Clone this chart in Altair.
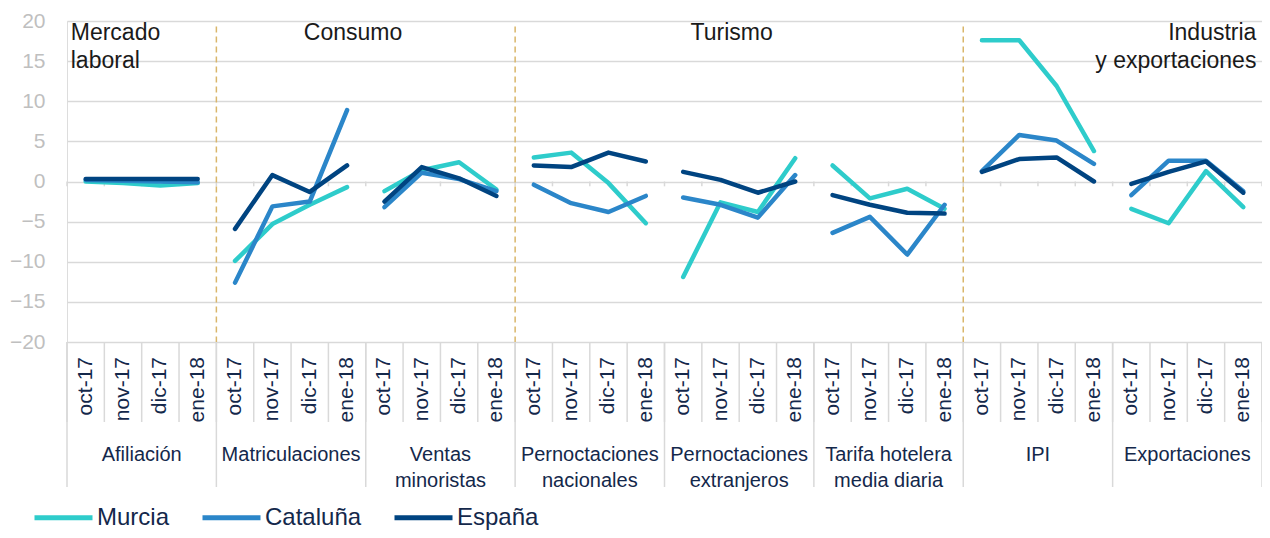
import altair as alt
import pandas as pd

groups = ["Afiliación", "Matriculaciones", "Ventas minoristas", "Pernoctaciones nacionales",
          "Pernoctaciones extranjeros", "Tarifa hotelera media diaria", "IPI", "Exportaciones"]
group_labels = ["Afiliación", "Matriculaciones", "Ventas\nminoristas", "Pernoctaciones\nnacionales",
                "Pernoctaciones\nextranjeros", "Tarifa hotelera\nmedia diaria", "IPI", "Exportaciones"]
months = ["oct-17", "nov-17", "dic-17", "ene-18"]
series = ["Murcia", "Cataluña", "España"]
colors = ["#2ECCCB", "#2B86C9", "#004481"]

murcia = [0.0, -0.2, -0.5, -0.2,
          -9.9, -5.3, -2.9, -0.7,
          -1.2, 1.4, 2.4, -1.0,
          3.0, 3.6, -0.2, -5.2,
          -11.9, -2.6, -3.8, 2.9,
          2.0, -2.1, -0.9, -3.4,
          17.6, 17.6, 11.9, 3.8,
          -3.4, -5.2, 1.3, -3.2]
cataluna = [0.2, 0.1, 0.0, -0.1,
            -12.6, -3.1, -2.5, 8.9,
            -3.2, 1.1, 0.3, -1.2,
            -0.4, -2.7, -3.8, -1.8,
            -2.0, -2.9, -4.5, 0.8,
            -6.4, -4.4, -9.1, -2.9,
            1.3, 5.8, 5.1, 2.2,
            -1.7, 2.6, 2.6, -1.2]
espana = [0.3, 0.3, 0.3, 0.3,
          -5.9, 0.8, -1.3, 2.0,
          -2.5, 1.8, 0.4, -1.8,
          2.0, 1.8, 3.6, 2.5,
          1.2, 0.2, -1.4, 0.0,
          -1.7, -2.9, -3.9, -4.0,
          1.2, 2.8, 3.0, 0.0,
          -0.3, 1.2, 2.5, -1.4]

sections = ["Mercado\nlaboral", "Consumo", "Turismo", "Industria\ny exportaciones"]
section_pos = [0.1, 7.66, 17.8, 31.85]
section_align = ["left", "center", "center", "right"]
section_breaks = [4, 12, 24]

W, H = 1195, 321
TOP = 13
FONT = "Liberation Sans"
NAVY = "#14284B"

rows = []
for s, vals in zip(series, [murcia, cataluna, espana]):
    for i, v in enumerate(vals):
        rows.append(dict(series=s, group=groups[i // 4], month=months[i % 4], pos=i + 0.5, value=v))
df = pd.DataFrame(rows)

xs = alt.Scale(domain=[0, 32], nice=False, zero=False)
ys = alt.Scale(domain=[-20, 20], nice=False, zero=False)
yaxis = alt.Axis(values=list(range(-20, 21, 5)), grid=True, gridColor="#D9D9D9", gridWidth=1.5,
                 domain=False, ticks=False, tickSize=0, labelFontSize=21, labelColor="#BFBFBF",
                 labelPadding=22, title=None, labelFont=FONT, labelFlush=False, labelOverlap=False)

color = alt.Color("series:N", scale=alt.Scale(domain=series, range=colors),
                  legend=alt.Legend(orient="none", legendX=-35, legendY=465, direction="horizontal",
                                    title=None, symbolType="stroke", symbolSize=3364,
                                    symbolStrokeWidth=5, labelFontSize=24, labelFont=FONT,
                                    labelColor=NAVY, labelOffset=2, columnPadding=22))

months_df = pd.DataFrame({"pos": [i + 0.5 for i in range(32)],
                          "month": [months[i % 4] for i in range(32)]})
grid = alt.Chart(months_df).mark_point(opacity=0).encode(
    x=alt.X("pos:Q", scale=xs, axis=None),
    y=alt.Y("zero:Q", scale=ys, axis=yaxis)).transform_calculate(zero="0")

tick_df = pd.DataFrame({"b": list(range(33)), "t0": [0.0] * 33, "t1": [-0.6] * 33})
zero_ticks = alt.Chart(tick_df).mark_rule(color="#D9D9D9", strokeWidth=1.5).encode(
    x=alt.X("b:Q", scale=xs, axis=None),
    y=alt.Y("t0:Q", scale=ys, axis=yaxis), y2="t1:Q")

sep_df = pd.DataFrame({"b": section_breaks, "top": [19.3] * 3, "bot": [-20.0] * 3})
seps = alt.Chart(sep_df).mark_rule(color="#D9B66A", strokeWidth=1.5, strokeDash=[6, 4]).encode(
    x=alt.X("b:Q", scale=xs, axis=None),
    y=alt.Y("top:Q", scale=ys, axis=yaxis), y2="bot:Q")

line_layers = []
for s in series:
    line_layers.append(
        alt.Chart(df).transform_filter(alt.datum.series == s)
        .mark_line(strokeWidth=4.5, strokeCap="round", strokeJoin="round")
        .encode(x=alt.X("pos:Q", scale=xs, axis=None),
                y=alt.Y("value:Q", scale=ys, axis=yaxis),
                color=color, detail="group:N"))

mb_df = pd.DataFrame({"b": list(range(33))})
month_seps = alt.Chart(mb_df).mark_rule(color="#D9D9D9", strokeWidth=1.5).encode(
    x=alt.X("b:Q", scale=xs, axis=None), y=alt.value(H), y2=alt.value(401))
gb_df = pd.DataFrame({"b": list(range(0, 33, 4))})
group_seps = alt.Chart(gb_df).mark_rule(color="#D9D9D9", strokeWidth=1.5).encode(
    x=alt.X("b:Q", scale=xs, axis=None), y=alt.value(H), y2=alt.value(466))

month_text = alt.Chart(months_df).mark_text(angle=270, align="right", baseline="middle",
                                             fontSize=21, font=FONT, color=NAVY).encode(
    x=alt.X("pos:Q", scale=xs, axis=None), y=alt.value(H + 15), text="month:N")

glab_df = pd.DataFrame({"pos": [4 * g + 2 for g in range(8)], "label": group_labels})
group_text = alt.Chart(glab_df).mark_text(align="center", baseline="top", fontSize=20, font=FONT,
                                           color=NAVY, lineBreak="\n", lineHeight=25.5).encode(
    x=alt.X("pos:Q", scale=xs, axis=None), y=alt.value(424), text="label:N")

sec_layers = []
for lab, p, a in zip(sections, section_pos, section_align):
    sdf = pd.DataFrame({"pos": [p], "label": [lab]})
    sec_layers.append(
        alt.Chart(sdf).mark_text(align=a, baseline="top", fontSize=23, font=FONT, color="#1A1A1A",
                                 lineBreak="\n", lineHeight=28).encode(
            x=alt.X("pos:Q", scale=xs, axis=None), y=alt.value(1), text="label:N"))

chart = alt.layer(grid, zero_ticks, seps, month_seps, group_seps, month_text, group_text,
                  *sec_layers, *line_layers).properties(
    width=W, height=H,
    autosize=alt.AutoSizeParams(type="none"),
    padding={"left": 59, "top": TOP, "right": 0, "bottom": 188},
).configure_view(stroke=None).configure(font=FONT)

chart.save("out.html", embed_options={"renderer": "svg", "actions": False})
